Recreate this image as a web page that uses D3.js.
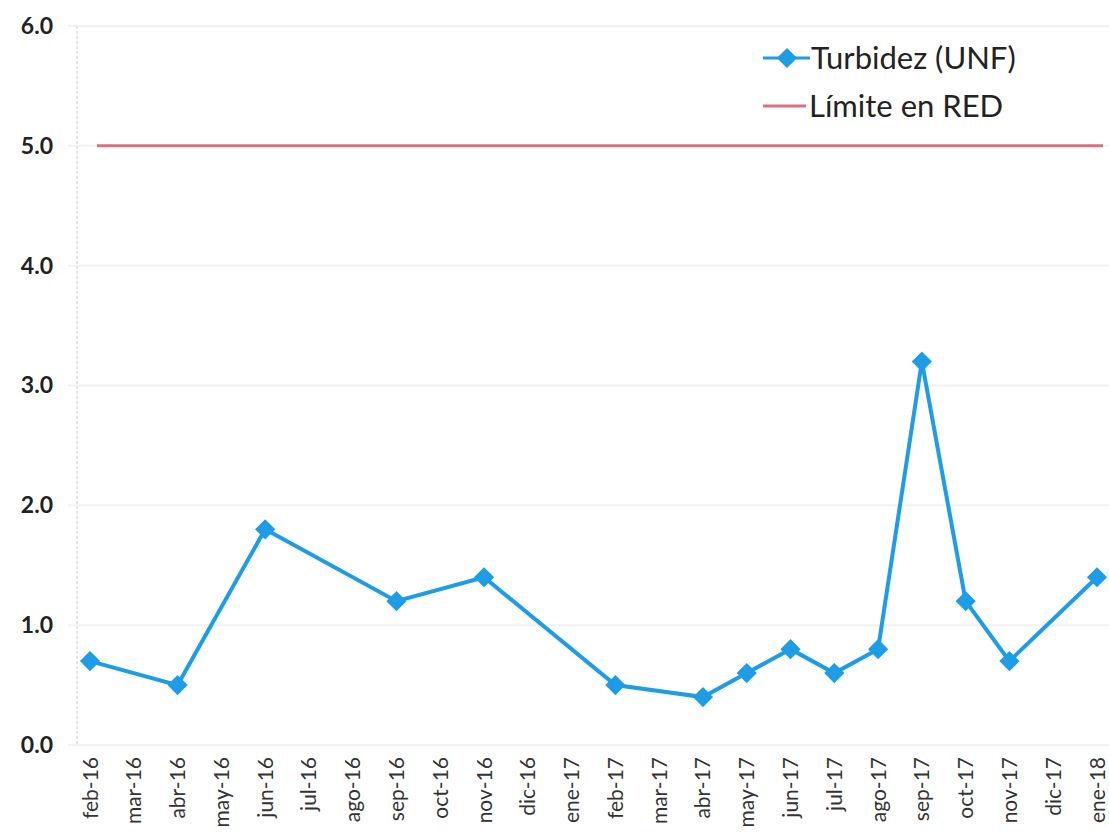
<!DOCTYPE html>
<html>
<head>
<meta charset="utf-8">
<script src="https://cdn.jsdelivr.net/npm/d3@7"></script>
<style>
  body { margin: 0; background: #fff; }
  svg { display: block; }
  svg text { font-family: Lato, "Open Sans", sans-serif; }
</style>
</head>
<body>
<svg class="main-svg" width="1109" height="840"></svg>
<script>
var months = ['feb-16','mar-16','abr-16','may-16','jun-16','jul-16','ago-16','sep-16',
  'oct-16','nov-16','dic-16','ene-17','feb-17','mar-17','abr-17','may-17','jun-17',
  'jul-17','ago-17','sep-17','oct-17','nov-17','dic-17','ene-18'];

// only the sampled months carry a value
var turbMonths = ['feb-16','abr-16','jun-16','sep-16','nov-16','feb-17','abr-17','may-17',
  'jun-17','jul-17','ago-17','sep-17','oct-17','nov-17','ene-18'];
var turbValues = [0.7, 0.5, 1.8, 1.2, 1.4, 0.5, 0.4, 0.6, 0.8, 0.6, 0.8, 3.2, 1.2, 0.7, 1.4];

var limitValue = 5.0;
var yTicks = [0, 1, 2, 3, 4, 5, 6];

var blue = '#1f9ce6',
    red = '#d9707f';

var svg = d3.select('.main-svg');

var x = d3.scalePoint().domain(months).range([90, 1097]);
var y = d3.scaleLinear().domain([0, 6]).range([745, 26]);

// gridlines
svg.append('g')
  .selectAll('line')
  .data(yTicks)
  .enter()
  .append('line')
  .attr('x1', 68).attr('x2', 1109)
  .attr('y1', d => y(d)).attr('y2', d => y(d))
  .attr('stroke', '#f2f2f2')
  .attr('stroke-width', 2);

// faint left axis
svg.append('line')
  .attr('x1', 77).attr('x2', 77)
  .attr('y1', y(6)).attr('y2', y(0))
  .attr('stroke', '#c8c8c8')
  .attr('stroke-width', 1)
  .attr('stroke-dasharray', '3,2');

// y axis labels
var yAxis = d3.axisLeft(y).tickValues(yTicks).tickFormat(d3.format('.1f')).tickSize(0).tickPadding(0);
var gy = svg.append('g').attr('transform', 'translate(53,0)').call(yAxis);
gy.attr('font-family', null);
gy.select('.domain').remove();
gy.selectAll('text')
  .attr('font-size', 23)
  .attr('font-weight', 'bold')
  .attr('fill', '#222');

// x axis labels
var xAxis = d3.axisBottom(x).tickSize(0).tickPadding(0);
var gx = svg.append('g').attr('transform', 'translate(0,757)').call(xAxis);
gx.attr('font-family', null);
gx.select('.domain').remove();
gx.selectAll('text')
  .attr('font-size', 21)
  .attr('fill', '#333')
  .attr('text-anchor', 'end')
  .attr('dy', 0)
  .attr('transform', 'rotate(-90) translate(0,7)');

// limit line
svg.append('line')
  .attr('x1', x(months[0]) + 7).attr('x2', x(months[months.length - 1]) + 6)
  .attr('y1', y(limitValue)).attr('y2', y(limitValue))
  .attr('stroke', red)
  .attr('stroke-width', 3);

// turbidity series
var pts = turbMonths.map((m, i) => [x(m), y(turbValues[i])]);

svg.append('path')
  .datum(pts)
  .attr('d', d3.line())
  .attr('fill', 'none')
  .attr('stroke', blue)
  .attr('stroke-width', 4);

var diamond = d3.symbol().type(d3.symbolDiamond2).size(260);
svg.append('g')
  .selectAll('path')
  .data(pts)
  .enter()
  .append('path')
  .attr('d', diamond)
  .attr('transform', d => 'translate(' + d[0] + ',' + d[1] + ')')
  .attr('fill', blue);

// legend
var legend = svg.append('g');
legend.append('line')
  .attr('x1', 763).attr('x2', 810).attr('y1', 58).attr('y2', 58)
  .attr('stroke', blue).attr('stroke-width', 3);
legend.append('path')
  .attr('d', diamond)
  .attr('transform', 'translate(787,58)')
  .attr('fill', blue);
legend.append('text')
  .attr('x', 811).attr('y', 58).attr('dy', '0.35em')
  .attr('font-size', 31).attr('fill', '#222')
  .text('Turbidez (UNF)');
legend.append('line')
  .attr('x1', 763).attr('x2', 806).attr('y1', 106).attr('y2', 106)
  .attr('stroke', red).attr('stroke-width', 3);
legend.append('text')
  .attr('x', 809).attr('y', 106).attr('dy', '0.35em')
  .attr('font-size', 31).attr('fill', '#222')
  .text('Límite en RED');
</script>
</body>
</html>
